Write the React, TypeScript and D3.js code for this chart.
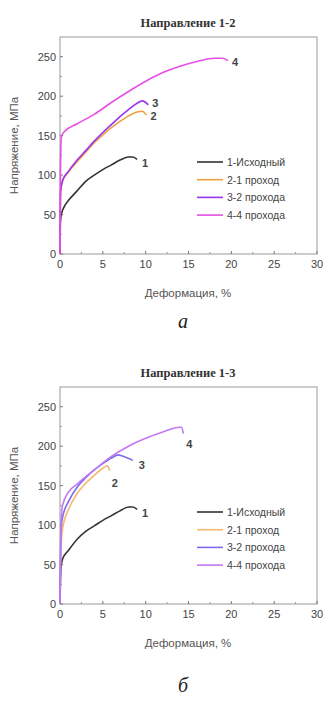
import React from "react";
import { scaleLinear, line, curveMonotoneX } from "d3";

const W = 326;
const H = 702;

type Pt = [number, number];

const xTicks = [0, 5, 10, 15, 20, 25, 30];
const yTicks = [0, 50, 100, 150, 200, 250];
const legendNames = ["1-Исходный", "2-1 проход", "3-2 прохода", "4-4 прохода"];
const curveIds = ["1", "2", "3", "4"];

// Направление 1-2
const a1: Pt[] = [[0, 0], [0.05, 40], [0.15, 50], [0.5, 60], [1, 68], [2, 80], [3, 92], [4, 100], [5, 107], [6, 113], [7, 119], [8, 123], [8.5, 123], [9, 120]];
const a2: Pt[] = [[0, 0], [0.05, 75], [0.3, 93], [1, 104], [2, 117], [3, 129], [4, 141], [5, 151], [6, 160], [7, 168], [8, 175], [9, 180], [9.6, 181], [10.1, 176]];
const a3: Pt[] = [[0, 0], [0.05, 78], [0.3, 93], [1, 105], [2, 119], [3, 131], [4, 143], [5, 154], [6, 164], [7, 174], [8, 183], [9, 191], [9.6, 194], [10.3, 189]];
const a4: Pt[] = [[0, 0], [0.05, 100], [0.15, 148], [0.5, 155], [2, 165], [4, 177], [6, 192], [8, 206], [10, 219], [12, 230], [14, 238], [16, 244], [18, 248], [19, 248], [19.6, 245]];

// Направление 1-3
const b1: Pt[] = [[0, 0], [0.1, 45], [0.3, 57], [1, 68], [2, 82], [3, 92], [4, 99], [5, 106], [6, 112], [7, 118], [8, 123], [8.5, 123], [9, 120]];
const b2: Pt[] = [[0, 0], [0.1, 70], [0.3, 95], [1, 120], [2, 140], [3, 153], [4, 163], [5, 172], [5.5, 175], [5.8, 169]];
const b3: Pt[] = [[0, 0], [0.1, 90], [0.3, 110], [1, 130], [2, 148], [3, 160], [4, 170], [5, 178], [6, 185], [6.8, 189], [7.2, 188], [8.5, 182]];
const b4: Pt[] = [[0, 0], [0.1, 100], [0.3, 125], [1, 142], [2, 152], [4, 170], [6, 187], [8, 200], [10, 210], [12, 218], [14, 224], [14.2, 224], [14.4, 216]];

const colorsA = ["#333333", "#f0a040", "#9a34f0", "#e650e6"];
const colorsB = ["#333333", "#f4b870", "#7c6cf0", "#c478f2"];

type PanelProps = {
  top: number;
  title: string;
  letter: string;
  letterY: number;
  series: Pt[][];
  colors: string[];
  labelOffsets: Pt[];
};

function Panel({ top, title, letter, letterY, series, colors, labelOffsets }: PanelProps) {
  const left = 60;
  const right = 317;
  const y0 = top + 37;
  const y1 = top + 254;
  const x = scaleLinear().domain([0, 30]).range([left, right]);
  const y = scaleLinear().domain([0, 275]).range([y1, y0]);
  const gen = line<Pt>().x(d => x(d[0])).y(d => y(d[1])).curve(curveMonotoneX);
  const minorX = [2.5, 7.5, 12.5, 17.5, 22.5, 27.5];
  const minorY = [25, 75, 125, 175, 225];
  const legX = right - 120;
  const legY = top + 162;

  return (
    <g>
      <text x={188} y={top + 27} textAnchor="middle" fontFamily="Liberation Serif" fontWeight="bold" fontSize={12.5} fill="#333">{title}</text>
      <rect x={left} y={y0} width={right - left} height={y1 - y0} fill="none" stroke="#999" strokeWidth={1} />
      {xTicks.map(t => (
        <g key={"x" + t}>
          <line x1={x(t)} x2={x(t)} y1={y1} y2={y1 - 3} stroke="#777" />
          <text x={x(t)} y={y1 + 14} textAnchor="middle" fontFamily="Liberation Sans" fontSize={11} fill="#444">{t}</text>
        </g>
      ))}
      {minorX.map(t => (
        <line key={"mx" + t} x1={x(t)} x2={x(t)} y1={y1} y2={y1 - 2} stroke="#999" />
      ))}
      {yTicks.map(t => (
        <g key={"y" + t}>
          <line x1={left} x2={left + 3} y1={y(t)} y2={y(t)} stroke="#777" />
          <text x={left - 4} y={y(t) + 4} textAnchor="end" fontFamily="Liberation Sans" fontSize={11} fill="#444">{t}</text>
        </g>
      ))}
      {minorY.map(t => (
        <line key={"my" + t} x1={left} x2={left + 2} y1={y(t)} y2={y(t)} stroke="#999" />
      ))}
      <text transform={`translate(18,${(y0 + y1) / 2}) rotate(-90)`} textAnchor="middle" fontFamily="Liberation Sans" fontSize={11.5} fill="#555">Напряжение, МПа</text>
      <text x={188} y={top + 297} textAnchor="middle" fontFamily="Liberation Sans" fontSize={11.5} fill="#555">Деформация, %</text>
      <text x={183} y={letterY} textAnchor="middle" fontFamily="Liberation Serif" fontStyle="italic" fontSize={20} fill="#222">{letter}</text>
      {series.map((s, i) => (
        <path key={"s" + i} d={gen(s) || ""} fill="none" stroke={colors[i]} strokeWidth={1.6} />
      ))}
      {series.map((s, i) => {
        const last = s[s.length - 1];
        return (
          <text key={"l" + i} x={x(last[0]) + labelOffsets[i][0]} y={y(last[1]) + labelOffsets[i][1]} fontFamily="Liberation Sans" fontWeight="bold" fontSize={11} fill="#444">{curveIds[i]}</text>
        );
      })}
      {legendNames.map((n, i) => (
        <g key={"lg" + i}>
          <line x1={legX} x2={legX + 26} y1={legY + i * 17.7} y2={legY + i * 17.7} stroke={colors[i]} strokeWidth={1.6} />
          <text x={legX + 30} y={legY + i * 17.7 + 4} fontFamily="Liberation Sans" fontSize={10.5} fill="#444">{n}</text>
        </g>
      ))}
    </g>
  );
}

export default function App() {
  return (
    <div style={{ position: "absolute", left: 0, top: 0 }}>
      <svg width={W} height={H}>
        <rect width={W} height={H} fill="#fff" />
        <Panel top={0} title="Направление 1-2" letter="а" letterY={328} series={[a1, a2, a3, a4]} colors={colorsA} labelOffsets={[[5, 8], [4, 5], [4, 2], [4, 5]]} />
        <Panel top={350} title="Направление 1-3" letter="б" letterY={692} series={[b1, b2, b3, b4]} colors={colorsB} labelOffsets={[[5, 8], [2, 16], [6, 9], [3, 14]]} />
      </svg>
    </div>
  );
}
